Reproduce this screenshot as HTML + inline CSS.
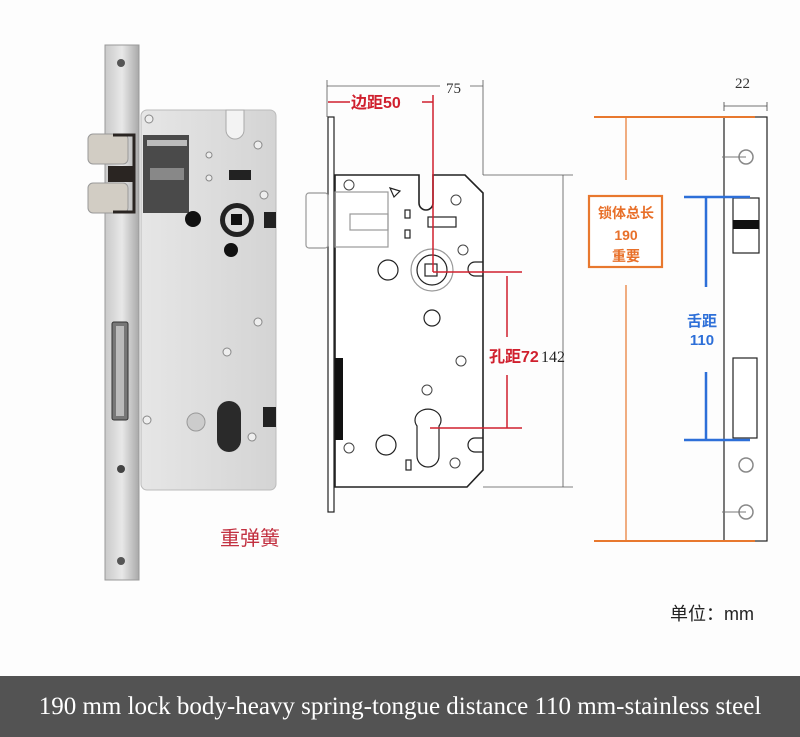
<!DOCTYPE html>
<html><head><meta charset="utf-8"><style>
html,body{margin:0;padding:0;background:#fdfdfd;}
#w{position:relative;width:800px;height:737px;overflow:hidden;background:#fdfdfd;}
svg{position:absolute;left:0;top:0}
.bar{position:absolute;left:0;top:676px;width:800px;height:61px;background:#535353;color:#fff;font-family:"Liberation Serif",serif;font-size:25px;text-align:center;line-height:61px;white-space:nowrap;}
</style></head><body><div id="w">
<svg width="800" height="737" viewBox="0 0 800 737" font-family="Liberation Sans, Noto Sans CJK SC, sans-serif">
<defs>
<linearGradient id="fp" x1="0" x2="1"><stop offset="0" stop-color="#c9c9c9"/><stop offset="0.5" stop-color="#e8e8e8"/><stop offset="1" stop-color="#a9a9a9"/></linearGradient>
<linearGradient id="bd" x1="0" x2="1"><stop offset="0" stop-color="#e6e6e6"/><stop offset="1" stop-color="#d4d4d4"/></linearGradient>
</defs>
<!-- left photo -->
<rect x="141" y="110" width="135" height="380" rx="6" fill="url(#bd)" stroke="#bbb"/>
<rect x="143" y="135" width="46" height="78" fill="#4a4a4a"/>
<rect x="147" y="140" width="40" height="6" fill="#bbb"/>
<rect x="150" y="168" width="34" height="12" fill="#888"/>
<path d="M226 110 h18 v20 a9 9 0 0 1 -18 0z" fill="#f3f3f3" stroke="#aaa"/>
<rect x="229" y="170" width="22" height="10" fill="#222"/>
<circle cx="193" cy="219" r="8" fill="#111"/>
<circle cx="237" cy="220" r="17" fill="#222"/><circle cx="237" cy="220" r="12" fill="#ddd"/><rect x="231" y="214" width="11" height="11" fill="#111"/>
<rect x="264" y="212" width="12" height="16" fill="#222"/>
<circle cx="231" cy="250" r="7" fill="#111"/>
<path d="M217 440 v-27 a12 12 0 0 1 24 0 v27 a12 12 0 0 1 -24 0z" fill="#2a2a2a"/>
<circle cx="196" cy="422" r="9" fill="#ccc" stroke="#999"/>
<rect x="263" y="407" width="13" height="20" fill="#222"/>
<g fill="#eee" stroke="#888"><circle cx="149" cy="119" r="4"/><circle cx="258" cy="145" r="4"/><circle cx="264" cy="195" r="4"/><circle cx="258" cy="322" r="4"/><circle cx="227" cy="352" r="4"/><circle cx="147" cy="420" r="4"/><circle cx="252" cy="437" r="4"/><circle cx="209" cy="155" r="3"/><circle cx="209" cy="178" r="3"/></g>
<rect x="105" y="45" width="34" height="535" fill="url(#fp)" stroke="#999"/>
<rect x="112" y="322" width="16" height="98" rx="2" fill="#777" stroke="#333"/>
<rect x="116" y="326" width="8" height="90" fill="#bbb"/>
<circle cx="121" cy="63" r="4" fill="#555"/><circle cx="121" cy="469" r="4" fill="#444"/><circle cx="121" cy="561" r="4" fill="#555"/>
<!-- latch bolts on top -->
<rect x="88" y="134" width="40" height="30" rx="5" fill="#d2cdc4" stroke="#999"/>
<rect x="88" y="183" width="40" height="30" rx="5" fill="#d2cdc4" stroke="#999"/>
<path d="M113 135 H134 V212 H113" fill="none" stroke="#2a2522" stroke-width="3"/>
<rect x="108" y="166" width="27" height="16" fill="#2a2522"/>
<text x="220" y="545" font-size="20" fill="#c23040">重弹簧</text>
<!-- middle drawing -->
<g stroke="#222" fill="none" stroke-width="1.2">
<rect x="328" y="117" width="6" height="395" fill="#fff"/>
<path d="M335 175 H419 V203 a7 7 0 0 0 14 0 V175 H465 L483 193 V470 L467 487 H335 Z" fill="#fff" stroke-width="1.6"/>
<rect x="306" y="193" width="22" height="55" rx="3" stroke="#999"/>
<rect x="335" y="192" width="53" height="55" stroke="#999"/>
<rect x="350" y="214" width="38" height="16" stroke="#999"/>
<circle cx="432" cy="270" r="21" stroke="#999"/><circle cx="432" cy="270" r="15"/>
<rect x="425" y="264" width="12" height="12"/>
<circle cx="388" cy="270" r="10"/><circle cx="432" cy="318" r="8"/>
<circle cx="386" cy="445" r="10"/>
<path d="M417 456 v-30 a13 11 0 1 1 22 0 v30 a6 6 0 0 1 -22 0z"/>
<path d="M483 262 h-8 a7 7 0 0 0 0 14 h8 M483 438 h-8 a7 7 0 0 0 0 14 h8"/>
<rect x="405" y="210" width="5" height="8"/><rect x="405" y="230" width="5" height="8"/>
<rect x="428" y="217" width="28" height="10"/>
<rect x="406" y="460" width="5" height="10"/>
<path d="M390 188 l10 3 -6 6z"/>
</g>
<rect x="335" y="358" width="8" height="82" fill="#111"/>
<g fill="#fff" stroke="#444"><circle cx="349" cy="185" r="5"/><circle cx="456" cy="200" r="5"/><circle cx="463" cy="250" r="5"/><circle cx="461" cy="361" r="5"/><circle cx="427" cy="390" r="5"/><circle cx="349" cy="448" r="5"/><circle cx="455" cy="463" r="5"/></g>
<g stroke="#555" stroke-width="0.8" fill="none">
<path d="M327 86 H440 M470 86 H483 M327 80 V117 M483 80 V175 M483 175 H573 M483 487 H573 M563 175 V487"/>
</g>
<text x="446" y="93" font-family="Liberation Serif, serif" font-size="15" fill="#333">75</text>
<text x="541" y="362" font-family="Liberation Serif, serif" font-size="16" fill="#222">142</text>
<g stroke="#d0202e" stroke-width="1.5" fill="none">
<path d="M328 102 H350 M422 102 H433 M433 95 V272 M433 272 H522 M430 428 H522 M507 276 V337 M507 375 V428"/>
</g>
<text x="351" y="108" font-size="16" font-weight="bold" fill="#d0202e">边距50</text>
<text x="489" y="362" font-size="16" font-weight="bold" fill="#d0202e">孔距72</text>
<!-- right drawing -->
<g stroke="#222" fill="none" stroke-width="1.2">
<rect x="724" y="117" width="43" height="424" fill="#fff"/>
<rect x="733" y="198" width="26" height="55" fill="#fff"/>
<rect x="733" y="358" width="24" height="80"/>
</g>
<rect x="733" y="220" width="26" height="9" fill="#111"/>
<g fill="#fff" stroke="#888" stroke-width="1.5"><circle cx="746" cy="157" r="7"/><circle cx="746" cy="465" r="7"/><circle cx="746" cy="512" r="7"/></g>
<path d="M722 157 H746 M722 512 H746" stroke="#777"/>
<path d="M724 106 H767 M724 102 V111 M767 102 V111" stroke="#444" stroke-width="0.8"/>
<text x="735" y="88" font-family="Liberation Serif, serif" font-size="15" fill="#333">22</text>
<g stroke="#e8782e" stroke-width="2"><path d="M594 117 H755 M594 541 H755"/></g>
<path d="M626 117 V180 M626 285 V541" stroke="#e8782e" stroke-width="1.2"/>
<rect x="589" y="196" width="73" height="71" fill="#fff" stroke="#e8782e" stroke-width="2.2"/>
<g font-size="14" font-weight="bold" fill="#e8702a" text-anchor="middle"><text x="626" y="218">锁体总长</text><text x="626" y="240">190</text><text x="626" y="261">重要</text></g>
<g stroke="#2d6fd8" stroke-width="2.5"><path d="M684 197 H750 M684 440 H750 M706 197 V287 M706 372 V440"/></g>
<g font-size="15" font-weight="bold" fill="#2d6fd8" text-anchor="middle"><text x="702" y="326">舌距</text><text x="702" y="345">110</text></g>
<text x="670" y="620" font-size="18" fill="#222">单位：mm</text>
</svg>
<div class="bar">190 mm lock body-heavy spring-tongue distance 110 mm-stainless steel</div>
</div></body></html>
